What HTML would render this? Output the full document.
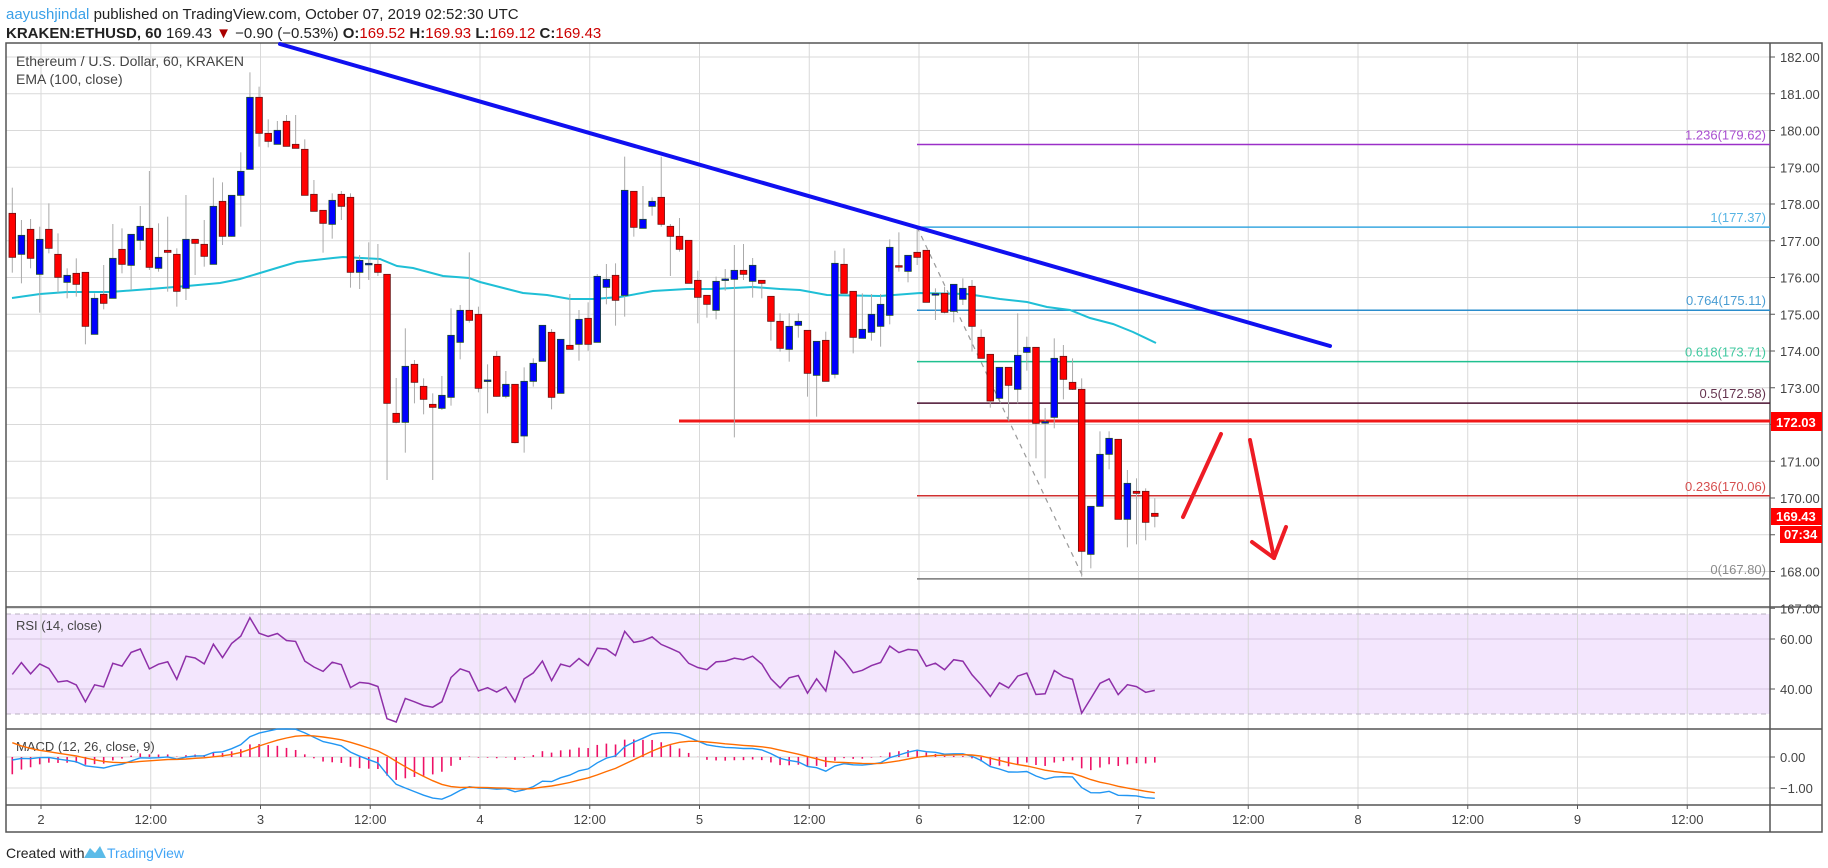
<!DOCTYPE html>
<html><head><meta charset="utf-8"><style>
html,body{margin:0;padding:0;background:#fff;width:1828px;height:868px;overflow:hidden}
svg text{font-family:"Liberation Sans",sans-serif}
</style></head><body>
<svg id="s" width="1828" height="868" xmlns="http://www.w3.org/2000/svg">
<rect width="1828" height="868" fill="#fff"/>
<text x="6" y="19" font-size="15" fill="#222"><tspan fill="#3aa0e8">aayushjindal</tspan> published on TradingView.com, October 07, 2019 02:52:30 UTC</text>
<text x="6" y="38" font-size="15" fill="#222"><tspan font-weight="bold">KRAKEN:ETHUSD, 60</tspan> 169.43 <tspan fill="#a00">▼</tspan> −0.90 (−0.53%) <tspan font-weight="bold">O:</tspan><tspan fill="#c00">169.52</tspan> <tspan font-weight="bold">H:</tspan><tspan fill="#c00">169.93</tspan> <tspan font-weight="bold">L:</tspan><tspan fill="#c00">169.12</tspan> <tspan font-weight="bold">C:</tspan><tspan fill="#c00">169.43</tspan></text>
<g id="g"></g>
</svg>
<script>
const NS="http://www.w3.org/2000/svg",G=document.getElementById('g');
function el(t,a,txt){const e=document.createElementNS(NS,t);for(const k in a)e.setAttribute(k,a[k]);if(txt!=null)e.textContent=txt;G.appendChild(e);return e;}
const L=6,R=1770,T=43,MB=607,RB=729,MCB=805,AB=832,RE=1822;
const py=p=>57+(182-p)*36.75;
// RSI band
el('rect',{x:L,y:614,width:R-L,height:100,fill:'#f3e6fd'});
// grid verticals
for(let k=0;k<16;k++){const x=41+k*109.75;el('line',{x1:x,y1:T,x2:x,y2:MCB,stroke:'#d9d9d9','stroke-width':1});}
for(let p=167;p<=182;p++){el('line',{x1:L,y1:py(p),x2:R,y2:py(p),stroke:'#d9d9d9'});}
[639,689].forEach(y=>el('line',{x1:L,y1:y,x2:R,y2:y,stroke:'#d4c4e0'}));
[757,788].forEach(y=>el('line',{x1:L,y1:y,x2:R,y2:y,stroke:'#d9d9d9'}));
[614,714].forEach(y=>el('line',{x1:L,y1:y,x2:R,y2:y,stroke:'#b8b0c0','stroke-dasharray':'5,4'}));
// frames
el('rect',{x:L,y:T,width:RE-L,height:AB-T,fill:'none',stroke:'#555','stroke-width':1.5});
el('line',{x1:R,y1:T,x2:R,y2:AB,stroke:'#555','stroke-width':1.5});
[MB,RB,MCB].forEach(y=>el('line',{x1:L,y1:y,x2:RE,y2:y,stroke:'#555','stroke-width':1.5}));
// axis labels
for(let p=167;p<=182;p++){const y=py(p);el('line',{x1:R,y1:y,x2:R+5,y2:y,stroke:'#555'});if(p>167||true)el('text',{x:1780,y:y+5,'font-size':13,fill:'#444'},p.toFixed(2));}
[[639,'60.00'],[689,'40.00'],[757,'0.00'],[788,'−1.00']].forEach(([y,t])=>{el('line',{x1:R,y1:y,x2:R+5,y2:y,stroke:'#555'});el('text',{x:1780,y:y+5,'font-size':13,fill:'#444'},t);});
el('rect',{x:R+1,y:608,width:RE-R-1,height:0,fill:'#fff'});
const tl=['2','12:00','3','12:00','4','12:00','5','12:00','6','12:00','7','12:00','8','12:00','9','12:00'];
tl.forEach((t,k)=>{const x=41+k*109.75;el('line',{x1:x,y1:MCB,x2:x,y2:MCB+4,stroke:'#555'});el('text',{x:x,y:824,'font-size':13,fill:'#444','text-anchor':'middle'},t);});
// legends
el('text',{x:16,y:66,'font-size':14,fill:'#444'},'Ethereum / U.S. Dollar, 60, KRAKEN');
el('text',{x:16,y:84,'font-size':14,fill:'#444'},'EMA (100, close)');
el('text',{x:16,y:630,'font-size':13,fill:'#444'},'RSI (14, close)');
el('text',{x:16,y:751,'font-size':13,fill:'#444'},'MACD (12, 26, close, 9)');
// candle data [top,bot,color,wt,wb] zoom units
const A=[[460,592,'r',383,638],[526,583,'b',480,670],[508,595,'r',477,625],[538,643,'b',500,758],[508,565,'r',430,580],[583,652,'r',520,698],[646,667,'b',625,715],[640,673,'r',595,710],[637,799,'r',637,853],[715,823,'b',700,823],[703,730,'r',615,748],[595,715,'b',492,715],[568,613,'r',505,640],[523,616,'b',523,690],[499,541,'b',438,570],[505,622,'r',333,630],[592,625,'b',490,635],[571,577,'r',470,695],[583,694,'r',565,740],[538,685,'b',405,720],[538,550,'r',540,645],[553,589,'r',480,620],[439,613,'b',353,613],[424,529,'r',367,555],[406,529,'b',406,530],[334,406,'b',277,500],[112,328,'b',37,328],[112,220,'r',80,260],[220,244,'r',178,262],[211,253,'b',183,253],[184,259,'r',165,259],[253,265,'r',165,265],[268,406,'r',238,406],[403,454,'r',360,454],[451,490,'r',451,578],[421,493,'b',400,536],[403,439,'r',393,480],[412,637,'r',400,683],[601,637,'b',585,687],[610,613,'b',547,660],[613,637,'r',552,648]];
const B=[[403,790,'r',403,1020],[820,847,'r',714,850],[679,847,'b',565,938],[673,727,'r',660,790],[739,778,'r',715,823],[793,802,'r',760,1020],[766,805,'b',708,810],[586,772,'b',505,797],[511,607,'b',495,658],[511,541,'r',337,548],[523,745,'r',500,757],[720,724,'b',673,820],[649,769,'r',633,770],[733,769,'b',693,775],[733,908,'r',733,910],[724,888,'b',682,938],[670,724,'b',655,740],[556,664,'b',556,664],[577,772,'r',567,808],[598,760,'b',598,760],[616,628,'r',462,628],[538,613,'b',510,662],[535,613,'r',487,632],[409,607,'b',402,607],[418,442,'b',372,493],[406,481,'r',370,557],[151,466,'b',50,530],[154,262,'r',154,290],[238,265,'b',138,265],[184,199,'b',172,227],[172,253,'r',50,260],[259,289,'r',252,408],[289,328,'r',234,335],[301,430,'r',301,430],[421,472,'r',392,550],[466,493,'r',466,533],[424,511,'b',410,538],[417,419,'b',387,452],[391,418,'b',315,892],[391,403,'r',312,420],[376,424,'b',354,473],[421,430,'r',421,475],[469,544,'r',469,602],[544,625,'r',520,635],[559,628,'b',520,665]];
const C=[[424,436,'b',400,473],[451,580,'r',451,650],[484,586,'b',484,710],[481,604,'r',455,604],[250,583,'b',212,595],[253,340,'r',205,340],[334,472,'r',334,520],[448,475,'b',340,475],[403,457,'b',342,482],[373,439,'b',342,500],[202,406,'b',178,433],[257,259,'r',157,275],[226,274,'b',226,307],[217,232,'r',145,255],[211,367,'r',211,367],[341,343,'b',325,420],[340,397,'r',320,400],[313,394,'b',313,427],[325,358,'b',295,375],[319,439,'r',300,515],[472,535,'r',448,535],[523,663,'r',523,683],[562,655,'b',562,660],[562,616,'r',562,720],[526,628,'b',400,670],[502,517,'b',470,572],[502,730,'r',502,835],[725,727,'b',684,895],[535,712,'b',475,745],[529,598,'r',495,658],[607,628,'r',535,630],[628,1114,'r',595,1190],[979,1123,'b',979,1165],[823,979,'b',754,979],[775,823,'b',754,868],[778,1018,'r',778,1018],[910,1018,'b',870,1102],[934,940,'r',895,1093],[934,1027,'r',925,1081],[1000,1009,'r',955,1042]];
const cs=[];
[[A,60],[B,140],[C,180]].forEach(([arr,o])=>arr.forEach(c=>cs.push([o+c[0]/3,o+c[1]/3,c[2],o+c[3]/3,o+c[4]/3])));
const cx=i=>12.3+9.14*i;
const yp=y=>182-(y-57)/36.75;
// fib & lines (drawn before candles)
const fx=917;
const fib=[[179.62,'#9b30c8','1.236(179.62)'],[177.37,'#3aa8e0','1(177.37)'],[175.11,'#2a8ccc','0.764(175.11)'],[173.71,'#20c090','0.618(173.71)'],[172.58,'#4a1030','0.5(172.58)'],[170.06,'#d03030','0.236(170.06)'],[167.80,'#777','0(167.80)']];
fib.forEach(([p,c,t])=>{const y=py(p);el('line',{x1:fx,y1:y,x2:R,y2:y,stroke:c,'stroke-width':1.5});el('text',{x:1766,y:y-5,'font-size':13,fill:c,'text-anchor':'end',opacity:0.85},t);});
el('line',{x1:679,y1:421,x2:R,y2:421,stroke:'#f01818','stroke-width':3});
el('line',{x1:917,y1:227,x2:1083,y2:577,stroke:'#999','stroke-width':1.2,'stroke-dasharray':'5,5'});
// EMA
const ema=[[12,298],[40,294],[67,292],[110,292],[150,289],[187,286],[220,283],[240,279],[260,273],[280,267],[297,262],[333,258],[343,257],[380,259],[397,266],[413,268],[443,276],[469,278],[480,282],[523,293],[547,295],[570,299],[593,299],[620,297],[653,291],[687,289],[713,289],[753,287],[780,289],[800,290],[827,295],[880,296],[920,293],[967,294],[1000,299],[1027,302],[1047,307],[1070,310],[1090,318],[1113,324],[1133,332],[1156,343]];
el('polyline',{points:ema.map(p=>p.join(',')).join(' '),fill:'none',stroke:'#1fbfd6','stroke-width':2});
// candles
cs.forEach((c,i)=>{const x=cx(i);el('line',{x1:x,y1:c[3],x2:x,y2:c[4],stroke:'#aaa','stroke-width':1});
const h=Math.max(1.5,c[1]-c[0]);el('rect',{x:x-3.3,y:c[0],width:6.6,height:h,fill:c[2]=='r'?'#ff0000':'#0000ff',stroke:c[2]=='r'?'#6a1010':'#1a4a2a','stroke-width':0.8});});
// trendline
el('line',{x1:280,y1:44,x2:1330,y2:346,stroke:'#1010f0','stroke-width':4,'stroke-linecap':'round'});
// arrows
const ar={fill:'none',stroke:'#ee1c25','stroke-width':4,'stroke-linecap':'round','stroke-linejoin':'round'};
el('polyline',Object.assign({points:'1183,517 1221,434'},ar));
el('polyline',Object.assign({points:'1250,440 1274,558'},ar));
el('polyline',Object.assign({points:'1252,542 1274,558 1286,527'},ar));
// price boxes
el('rect',{x:R+1,y:412,width:RE-R-1,height:19,fill:'#f00'});el('text',{x:1776,y:427,'font-size':13,fill:'#fff','font-weight':'bold'},'172.03');
el('rect',{x:R+1,y:508,width:RE-R-1,height:17,fill:'#f00'});el('text',{x:1776,y:521,'font-size':13,fill:'#fff','font-weight':'bold'},'169.43');
el('rect',{x:R+10,y:526,width:RE-R-10,height:17,fill:'#f00'});el('text',{x:1784,y:539,'font-size':13,fill:'#fff','font-weight':'bold'},'07:34');
// indicators
const cl=cs.map(c=>yp(c[2]=='r'?c[1]:c[0]));
// RSI
let ag=0.22,al=0.26,rs=[];
for(let i=0;i<cl.length;i++){if(i>0){const d=cl[i]-cl[i-1];ag=(ag*13+Math.max(d,0))/14;al=(al*13+Math.max(-d,0))/14;}rs.push(100-100/(1+ag/al));}
el('polyline',{points:rs.map((v,i)=>cx(i).toFixed(1)+','+(639+(60-v)*2.5).toFixed(1)).join(' '),fill:'none',stroke:'#8e2fa8','stroke-width':1.5});
// MACD
let e12=cl[0]+0.05,e26=cl[0]+0.15,sg=0.6,m=[],sgs=[];
for(let i=0;i<cl.length;i++){e12+=(cl[i]-e12)*2/13;e26+=(cl[i]-e26)*2/27;const mv=e12-e26;sg+=(mv-sg)*2/10;m.push(mv);sgs.push(sg);}
const my=v=>757-v*31;
m.forEach((v,i)=>{const h=v-sgs[i];el('line',{x1:cx(i),y1:757,x2:cx(i),y2:my(h),stroke:'#ee1166','stroke-width':1.6});});
el('polyline',{points:m.map((v,i)=>cx(i).toFixed(1)+','+my(v).toFixed(1)).join(' '),fill:'none',stroke:'#2196f3','stroke-width':1.4});
el('polyline',{points:sgs.map((v,i)=>cx(i).toFixed(1)+','+my(v).toFixed(1)).join(' '),fill:'none',stroke:'#ff6d00','stroke-width':1.4});
// footer
el('text',{x:6,y:858,'font-size':14,fill:'#222'},'Created with');
el('path',{d:'M84,858 L90,848 L95,853 L100,846 L106,858 Z',fill:'#5bbbe8'});
el('text',{x:107,y:858,'font-size':14,fill:'#42a5f5'},'TradingView');
</script>
</body></html>
